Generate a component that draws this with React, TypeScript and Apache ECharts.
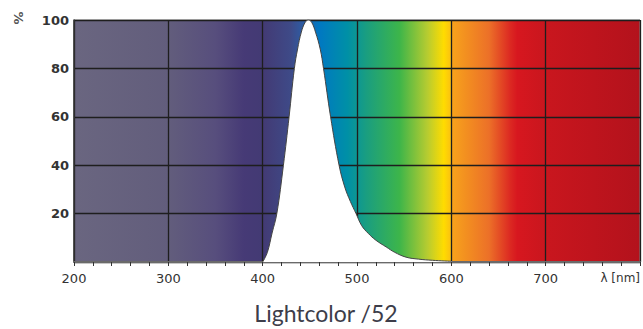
import React, { useEffect, useRef } from "react";
import * as echarts from "echarts";

const xTicks = [200, 300, 400, 500, 600, 700, 800];
const yTicks = [20, 40, 60, 80, 100];
const wavelengths = [400, 405, 410, 415, 422, 428, 433.6, 437, 441, 445, 448.5, 452, 456, 461, 464.5, 472, 481, 487, 493, 499, 505, 512, 520, 531, 540, 552, 565, 580, 600];
const intensity = [0, 4, 12, 20, 40, 60, 80, 88, 95, 99, 100, 99, 95, 88, 80, 60, 40, 31, 25, 20, 15, 11.8, 9, 6.2, 4, 2, 1.2, 0.7, 0.3];
const spectrumNm = [200, 300, 350, 380, 400, 430, 445, 460, 490, 510, 545, 575, 592, 600, 601, 615, 640, 662, 670, 700, 800];
const spectrumColors = ["#6a6680", "#625d7c", "#574e7d", "#463a76", "#433a74", "#3e4a88", "#2a5fa8", "#0078c2", "#0090a6", "#1a9e80", "#3db54a", "#b8cc30", "#ffdc00", "#fbbf12", "#f7a21c", "#f39020", "#ec7028", "#dc2a22", "#d7171f", "#c9161e", "#b3121c"];
const title = "Lightcolor /52";
const xUnit = "λ [nm]";

export default function App() {
  const ref = useRef<HTMLDivElement>(null);
  useEffect(() => {
    if (!ref.current) return;
    const chart = echarts.init(ref.current, null, { renderer: "svg" });
    const xMin = xTicks[0];
    const xMax = xTicks[xTicks.length - 1];
    const stops = spectrumNm.map((nm, i) => ({ offset: (nm - xMin) / (xMax - xMin), color: spectrumColors[i] }));
    chart.setOption({
      animation: false,
      backgroundColor: "#ffffff",
      grid: {
        left: 74,
        right: 3,
        top: 20,
        bottom: 67,
        show: true,
        backgroundColor: new echarts.graphic.LinearGradient(0, 0, 1, 0, stops),
        borderColor: "#8a8a8a",
        borderWidth: 1,
      },
      xAxis: {
        type: "value",
        min: xMin,
        max: xMax,
        interval: 100,
        axisLine: { show: true, lineStyle: { color: "#6a6a6a", width: 2 } },
        axisTick: { show: true, length: 4, lineStyle: { color: "#333" } },
        minorTick: { show: true, splitNumber: 5, length: 4, lineStyle: { color: "#333" } },
        splitLine: { show: true, lineStyle: { color: "#1e1e1e", width: 1.3 } },
        axisLabel: {
          margin: 10,
          fontFamily: "DejaVu Sans",
          fontSize: 13,
          color: "#333",
          alignMaxLabel: "right",
          formatter: (v: number) => (v === xMax ? "{u|" + xUnit + "}" : String(v)),
          rich: { u: { fontFamily: "DejaVu Sans", fontSize: 12, color: "#333" } },
        },
      },
      yAxis: {
        type: "value",
        min: 0,
        max: 100,
        interval: 20,
        axisLine: { show: true, lineStyle: { color: "#333", width: 1.5 } },
        axisTick: { show: false },
        splitLine: { show: true, lineStyle: { color: "#1e1e1e", width: 1.3 } },
        axisLabel: {
          margin: 5,
          fontFamily: "DejaVu Sans",
          fontSize: 13,
          fontWeight: "bold",
          color: "#333",
          formatter: (v: number) => (yTicks.includes(v) ? String(v) : ""),
        },
      },
      graphic: [
        {
          type: "text",
          x: 18,
          y: 18,
          rotation: -Math.PI / 2,
          style: { text: "%", fontSize: 13, fontFamily: "DejaVu Sans", fontWeight: "bold", fill: "#555", align: "center", verticalAlign: "middle" },
        },
        {
          type: "text",
          x: 326,
          y: 313,
          style: { text: title, fontSize: 23, fontFamily: "Lato", fill: "#3d3d4a", align: "center", verticalAlign: "middle" },
        },
      ],
      series: [
        {
          type: "line",
          data: wavelengths.map((w, i) => [w, intensity[i]]),
          smooth: 0.4,
          symbol: "none",
          lineStyle: { color: "#444", width: 1 },
          areaStyle: { color: "#ffffff", opacity: 1 },
          z: 5,
        },
      ],
    });
    return () => chart.dispose();
  }, []);
  return <div ref={ref} style={{ width: 643, height: 329, position: "absolute", left: 0, top: 0 }} />;
}
